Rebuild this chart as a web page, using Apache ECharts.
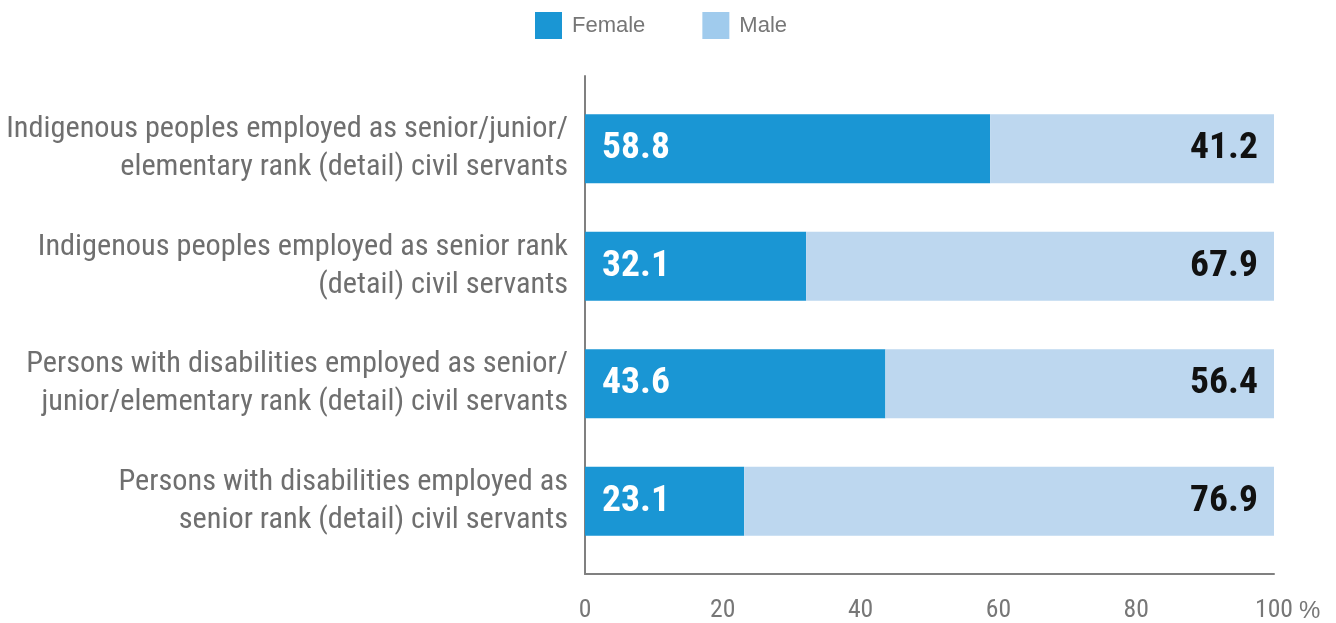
<!DOCTYPE html>
<html>
<head>
<meta charset="utf-8">
<script src="https://cdn.jsdelivr.net/npm/echarts@6/dist/echarts.min.js"></script>
<style>
  html, body { margin: 0; padding: 0; background: #ffffff; }
  #chart { width: 1336px; height: 623px; }
</style>
</head>
<body>
<div id="chart"></div>
<script>
// Share of civil servants by sex, in percent
const categories = [
  'Indigenous peoples employed as senior/junior/\nelementary rank (detail) civil servants',
  'Indigenous peoples employed as senior rank\n(detail) civil servants',
  'Persons with disabilities employed as senior/\njunior/elementary rank (detail) civil servants',
  'Persons with disabilities employed as\nsenior rank (detail) civil servants'
];
const seriesNames = ['Female', 'Male'];
const femaleValues = [58.8, 32.1, 43.6, 23.1];
const maleValues = [41.2, 67.9, 56.4, 76.9];
const xTicks = [0, 20, 40, 60, 80, 100];
const unitLabel = '%';

// Pick the narrowest installed condensed face and size text so that it keeps the intended widths
const ctx = document.createElement('canvas').getContext('2d');
function textWidth(font, str) { ctx.font = font; return ctx.measureText(str).width; }
function installed(family) {
  const probe = 'mmmmmmmmmmlli 0123456789';
  return textWidth('40px "' + family + '", monospace', probe) !== textWidth('40px monospace', probe);
}
const condensedFamily = ['Roboto Condensed', 'Liberation Sans Narrow', 'Arial Narrow', 'Open Sans Condensed', 'DejaVu Sans Condensed']
  .find(installed) || 'DejaVu Sans Condensed';
const narrow = '"' + condensedFamily + '", sans-serif';
const regular = '"Liberation Sans", Arial, sans-serif';

function fitSize(weight, str, targetWidth, maxSize) {
  const w = textWidth(weight + ' 100px ' + narrow, str);
  return Math.min(maxSize, Math.round(100 * targetWidth / w * 10) / 10);
}
const categorySize = fitSize('normal', 'Indigenous peoples employed as senior/junior/', 562, 33);
const valueSize = fitSize('bold', '58.8', 68, 40);
const tickSize = fitSize('normal', '100', 38, 27);

const femaleColor = '#1a96d4';
const maleColor = '#bdd7ef';
const maleLegendColor = '#a0cbed';
const axisColor = '#808080';
const textGray = '#6f6f6f';

const chart = echarts.init(document.getElementById('chart'), null, { renderer: 'canvas' });

chart.setOption({
  animation: false,
  backgroundColor: '#ffffff',
  legend: {
    left: 530,
    top: 7,
    itemWidth: 27,
    itemHeight: 27,
    itemGap: 57,
    icon: 'rect',
    textStyle: { fontFamily: regular, fontSize: 22, color: '#767676', padding: [0, 0, 0, 5] },
    data: [
      { name: seriesNames[0], itemStyle: { color: femaleColor } },
      { name: seriesNames[1], itemStyle: { color: maleLegendColor } }
    ]
  },
  grid: [
    // frame with the axis lines and the percentage scale
    { left: 585, top: 76, width: 689, height: 498, containLabel: false, outerBoundsMode: 'none' },
    // plotting area for the bars
    { left: 585, top: 90, width: 689, height: 470, containLabel: false, outerBoundsMode: 'none' }
  ],
  xAxis: [
    {
      gridIndex: 0,
      type: 'value',
      min: xTicks[0],
      max: xTicks[xTicks.length - 1],
      interval: xTicks[1] - xTicks[0],
      axisLine: { show: true, lineStyle: { color: axisColor, width: 2 } },
      axisTick: { show: false },
      splitLine: { show: false },
      axisLabel: {
        margin: 24,
        fontFamily: narrow,
        fontSize: tickSize,
        color: '#777777',
        lineHeight: 26
      },
      name: unitLabel,
      nameLocation: 'end',
      nameGap: 21,
      nameTextStyle: {
        fontFamily: regular,
        fontSize: 24,
        color: '#777777',
        verticalAlign: 'top',
        lineHeight: 26,
        padding: [24, 0, 0, 0]
      }
    },
    {
      gridIndex: 1,
      type: 'value',
      min: 0,
      max: 100,
      show: false
    }
  ],
  yAxis: [
    {
      gridIndex: 0,
      type: 'value',
      min: 0,
      max: 1,
      axisLine: { show: true, lineStyle: { color: axisColor, width: 2 } },
      axisTick: { show: false },
      axisLabel: { show: false },
      splitLine: { show: false }
    },
    {
      gridIndex: 1,
      type: 'category',
      inverse: true,
      data: categories,
      axisLine: { show: false },
      axisTick: { show: false },
      splitLine: { show: false },
      axisLabel: {
        margin: 17,
        fontFamily: narrow,
        fontSize: categorySize,
        lineHeight: 38,
        color: textGray,
        align: 'right'
      }
    }
  ],
  series: [
    {
      name: seriesNames[0],
      type: 'bar',
      stack: 'total',
      xAxisIndex: 1,
      yAxisIndex: 1,
      barWidth: 69,
      data: femaleValues,
      itemStyle: { color: femaleColor },
      label: {
        show: true,
        position: 'insideLeft',
        distance: 17,
        fontFamily: narrow,
        fontWeight: 'bold',
        fontSize: valueSize,
        color: '#ffffff',
        formatter: p => p.value.toFixed(1)
      }
    },
    {
      name: seriesNames[1],
      type: 'bar',
      stack: 'total',
      xAxisIndex: 1,
      yAxisIndex: 1,
      barWidth: 69,
      data: maleValues,
      itemStyle: { color: maleColor },
      label: {
        show: true,
        position: 'insideRight',
        distance: 16,
        fontFamily: narrow,
        fontWeight: 'bold',
        fontSize: valueSize,
        color: '#111111',
        formatter: p => p.value.toFixed(1)
      }
    }
  ]
});
</script>
</body>
</html>
